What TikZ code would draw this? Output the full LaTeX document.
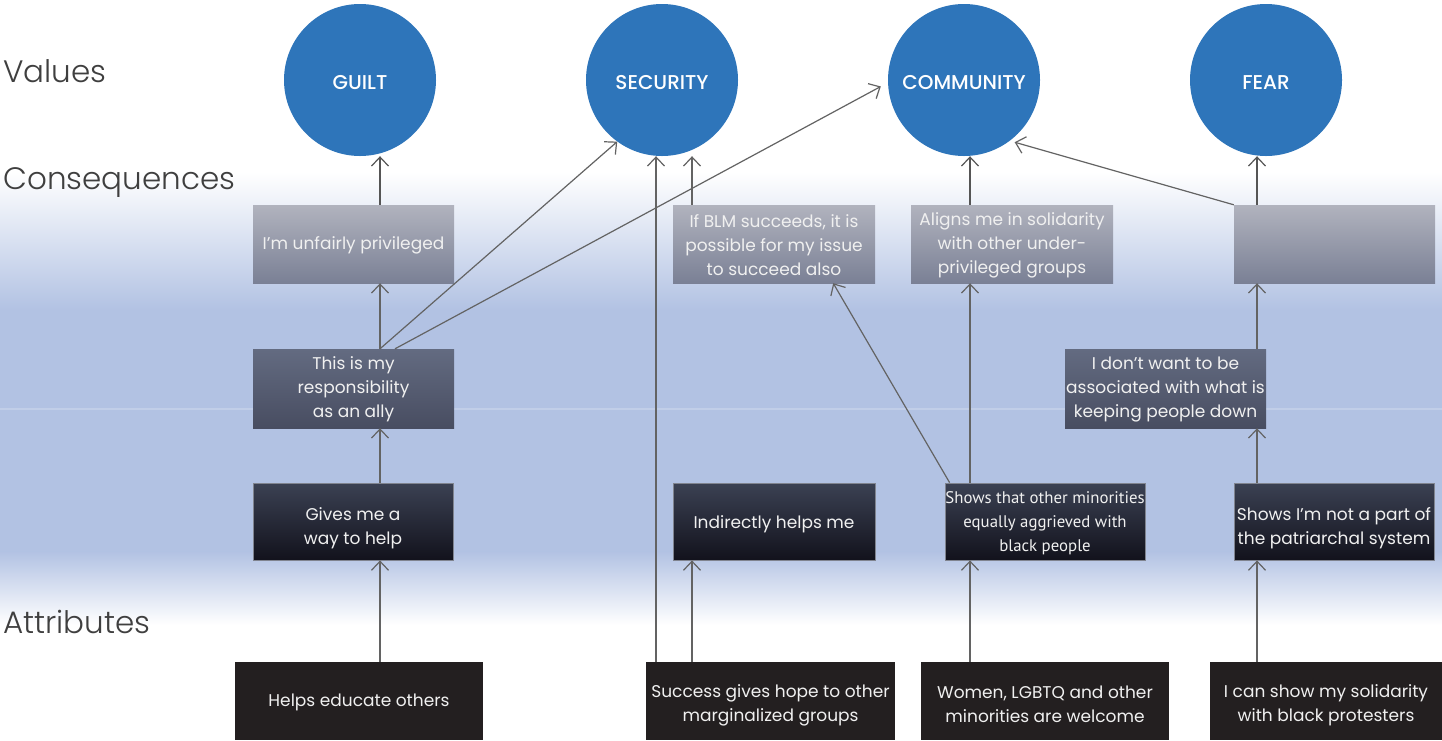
\documentclass[tikz,border=0pt]{standalone}
\usepackage{fontspec}
\setmainfont{Poppins}
\newfontfamily\narrowfont{PT Sans}
\newfontfamily\medfont{Poppins Medium}
\newfontfamily\lightfont{Poppins Light}
\usetikzlibrary{arrows.meta,calc}
\definecolor{bgblue}{HTML}{B2C2E3}
\definecolor{circblue}{HTML}{2E75BA}
\definecolor{arrgray}{HTML}{636363}
\definecolor{labgray}{HTML}{3F3F3F}
\definecolor{attrfill}{HTML}{231F20}
\definecolor{txt}{HTML}{F0F0F0}
\definecolor{lighttop}{HTML}{B1B3BE}
\definecolor{lightbot}{HTML}{7A8095}
\definecolor{midtop}{HTML}{636B81}
\definecolor{midbot}{HTML}{484D61}
\definecolor{darktop}{HTML}{3B4153}
\definecolor{darkbot}{HTML}{12121C}
\definecolor{darkedge}{HTML}{80848F}
\definecolor{stemgray}{HTML}{555555}
\tikzset{
  valuenode/.style={circle, fill=circblue, minimum size=152pt, inner sep=0pt, text=white, text height=18pt, text depth=0pt, font=\medfont\fontsize{20}{20}\selectfont},
  boxtext/.style={inner sep=0pt, align=center, text=txt, font=\fontsize{17}{24}\selectfont},
  boxbase/.style={rectangle, inner sep=0pt},
  lightbox/.style={boxbase, top color=lighttop, bottom color=lightbot, minimum width=201pt, minimum height=78pt},
  midbox/.style={boxbase, top color=midtop, bottom color=midbot, minimum width=201pt, minimum height=79pt},
  darkbox/.style={boxbase, top color=darktop, bottom color=darkbot, draw=darkedge, line width=0.8pt, minimum width=200pt, minimum height=77pt},
  attrbox/.style={boxbase, fill=attrfill, minimum height=78pt},
  levellabel/.style={anchor=west, text=labgray, inner sep=0pt, font=\lightfont\fontsize{31}{34}\selectfont},
  arr/.style={draw=arrgray, line width=1.2pt, -{Straight Barb[length=9pt, width=17pt, line width=1.2pt]}},
  thickarr/.style={arr, line width=2.6pt, draw=stemgray}
}
\begin{document}
\begin{tikzpicture}[x=1pt,y=-1pt]
\useasboundingbox (0,0) rectangle (1442,740);
% background
\fill[white] (0,0) rectangle (1442,740);
\shade[top color=white, bottom color=bgblue] (0,172) rectangle (1442,310);
\fill[bgblue] (0,309.5) rectangle (1442,552);
\shade[top color=bgblue, bottom color=white] (0,551.5) rectangle (1442,625);
\draw[white, opacity=0.2, line width=1.5pt] (0,409) -- (1442,409);

% level labels
\node[levellabel] (lv) at (3,71) {Values};
\node[levellabel] (lc) at (3,183) {Consequences};
\node[levellabel] (la) at (3,622) {Attributes};

% values
\node[valuenode] (guilt) at (360,80) {GUILT};
\node[valuenode] (security) at (662,80) {SECURITY};
\node[valuenode] (community) at (964,80) {COMMUNITY};
\node[valuenode] (fear) at (1266,80) {FEAR};

% consequences (top row)
\node[lightbox, label={[boxtext, yshift=-1pt]center:{I’m unfairly privileged}}] (priv) at (353.5,244) {};
\node[lightbox, minimum width=202pt, label={[boxtext, yshift=-1pt]center:{If BLM succeeds, it is\\possible for my issue\\to succeed also}}] (ifblm) at (774,244) {};
\node[lightbox, minimum width=202pt, label={[boxtext, yshift=-1pt]center:{Aligns me in solidarity\\with other under-\\privileged groups}}] (aligns) at (1012,244) {};
\node[lightbox] (empty) at (1334.5,244) {};

% consequences (middle row)
\node[midbox, label={[boxtext, yshift=-1pt]center:{This is my\\responsibility\\as an ally}}] (resp) at (353.5,388.5) {};
\node[midbox, label={[boxtext, yshift=-1pt]center:{I don’t want to be\\associated with what is\\keeping people down}}] (idont) at (1165.5,388.5) {};

% consequences (lower row)
\node[darkbox, label={[boxtext, yshift=-7pt]center:{Gives me a\\way to help}}] (gives) at (353,521.5) {};
\node[darkbox, minimum width=202pt, label={[boxtext, yshift=-3pt]center:{Indirectly helps me}}] (indirect) at (774,521.5) {};
\node[darkbox, label={[boxtext, yshift=-2pt, font=\narrowfont\fontsize{16.8}{24}\selectfont]center:{Shows that other minorities\\equally aggrieved with\\black people}}] (showsmin) at (1045,521.5) {};
\node[darkbox, label={[boxtext, yshift=-7pt]center:{Shows I’m not a part of\\the patriarchal system}}] (showsnot) at (1334,521.5) {};

% attributes
\node[attrbox, minimum width=248pt, label={[boxtext, yshift=-1pt]center:{Helps educate others}}] (helps) at (359,701) {};
\node[attrbox, minimum width=249pt, label={[boxtext, yshift=-4pt]center:{Success gives hope to other\\marginalized groups}}] (success) at (770.5,701) {};
\node[attrbox, minimum width=248pt, label={[boxtext, yshift=-3pt]center:{Women, LGBTQ and other\\minorities are welcome}}] (women) at (1045,701) {};
\node[attrbox, minimum width=232pt, label={[boxtext, yshift=-4pt]center:{I can show my solidarity\\with black protesters}}] (ican) at (1326,701) {};

% column x positions
\coordinate (x1) at (380,0);
\coordinate (x2a) at (656,0);
\coordinate (x2b) at (692,0);
\coordinate (x3) at (970,0);
\coordinate (x4) at (1257,0);

% column 1
\draw[arr] (helps.north -| x1) -- (gives.south -| x1);
\draw[arr] (gives.north -| x1) -- (resp.south -| x1);
\draw[arr] (resp.north -| x1) -- (priv.south -| x1);
\draw[thickarr] (priv.north -| x1) -- (guilt.south -| x1);
\draw[arr] (resp.north -| x1) -- (security.234);
\draw[arr, shorten >=8pt] ([xshift=15pt]resp.north -| x1) -- (community.182);

% column 2
\draw[arr] (success.north -| x2a) -- (security.south -| x2a);
\draw[arr] (success.north -| x2b) -- (indirect.south -| x2b);
\draw[arr, line width=1.5pt] (ifblm.north -| x2b) -- (security.south -| x2b);
\draw[arr] ([xshift=5pt]showsmin.north west) -- ([xshift=-42pt]ifblm.south east);

% column 3
\draw[arr] (women.north -| x3) -- (showsmin.south -| x3);
\draw[arr] (showsmin.north -| x3) -- (aligns.south -| x3);
\draw[thickarr] (aligns.north -| x3) -- (community.south -| x3);

% column 4
\draw[arr] (ican.north -| x4) -- (showsnot.south -| x4);
\draw[arr] (showsnot.north -| x4) -- (idont.south -| x4);
\draw[arr] (idont.north -| x4) -- (empty.south -| x4);
\draw[thickarr] (empty.north -| x4) -- (fear.south -| x4);
\draw[arr, shorten >=5pt] (empty.north west) -- (community.307);
\end{tikzpicture}
\end{document}
